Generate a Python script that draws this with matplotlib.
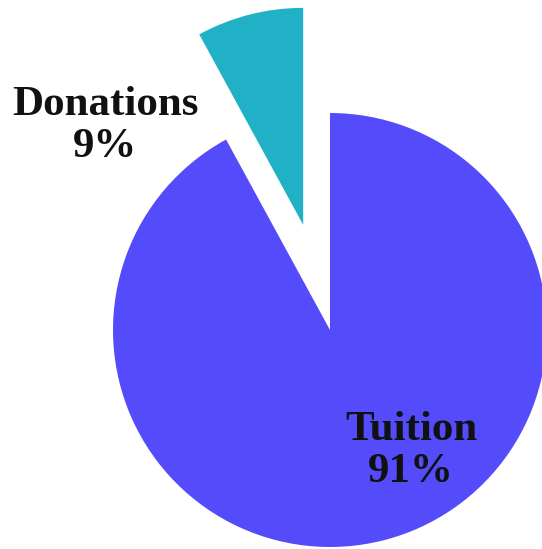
import matplotlib
matplotlib.use("Agg")
import matplotlib.pyplot as plt

labels = ["Donations", "Tuition"]
pct_labels = ["9%", "91%"]
# wedge sizes as drawn in the reference (the donation wedge spans ~28.6 deg)
values = [7.95, 92.05]
colors = ["#21B1C7", "#544CFA"]
explode = [0.5, 0]

fig = plt.figure(figsize=(5.42, 5.49), dpi=100)
ax = fig.add_axes([0, 0, 1, 1])

wedges, _ = ax.pie(values, colors=colors, explode=explode, startangle=90,
                   counterclock=True, radius=1.0,
                   wedgeprops=dict(linewidth=0))

# label positions (data coords, pie radius = 1)
label_pos = [(-1.037, 0.94), (0.373, -0.558)]
for name, pct, (x, y) in zip(labels, pct_labels, label_pos):
    ax.text(x, y, f"{name}\n{pct}", ha="center", va="center",
            fontsize=31, fontweight="bold", family="Liberation Serif",
            linespacing=1.12, color="#111111")

ax.set_aspect("equal")
ax.set_xlim(-330 / 217, 212 / 217)
ax.set_ylim(-219 / 217, 330 / 217)
ax.axis("off")

fig.savefig("out.png", dpi=100)
